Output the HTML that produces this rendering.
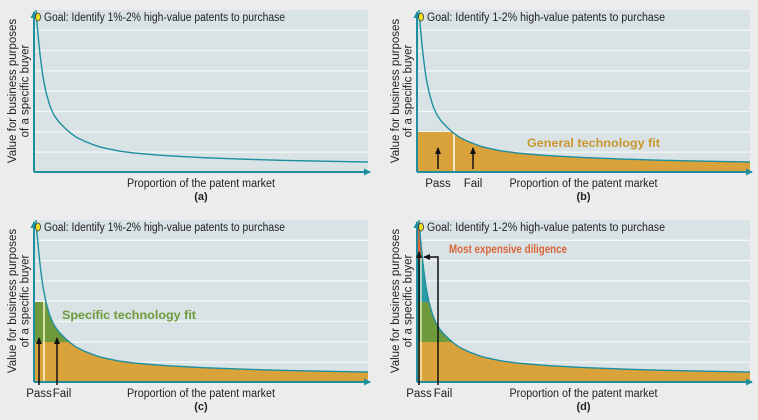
<!DOCTYPE html>
<html><head><meta charset="utf-8"><style>
html,body{margin:0;padding:0;background:#ececec;}
svg{display:block;font-family:"Liberation Sans",sans-serif;}
</style></head><body>
<svg id="s" width="758" height="420" viewBox="0 0 758 420" xmlns="http://www.w3.org/2000/svg">
<defs>
<marker id="ah" markerWidth="8" markerHeight="8" refX="6" refY="4" orient="auto" markerUnits="userSpaceOnUse"><path d="M0,0.5 L7,4 L0,7.5 z" fill="#1f8fa0"/></marker>
<marker id="bk" markerWidth="8" markerHeight="8" refX="6" refY="4" orient="auto" markerUnits="userSpaceOnUse"><path d="M0,1 L7,4 L0,7 z" fill="#111"/></marker>
</defs>
</svg>
<script>
var s=document.getElementById('s');var NS='http://www.w3.org/2000/svg';
var pts=[[2,160],[4,138],[6,118],[9,95],[12,80],[16,66],[20,57],[25,50],[33,42],[42,35],[50,31],[66,25],[85,21],[100,19],[130,16.5],[166,14.5],[210,12.8],[250,11.6],[300,10.6],[334,10]];
function h(x){if(x<=pts[0][0])return 162;for(var i=1;i<pts.length;i++){if(x<=pts[i][0]){var a=pts[i-1],b=pts[i];var t=(x-a[0])/(b[0]-a[0]);
var la=Math.log(a[1]),lb=Math.log(b[1]);return Math.exp(la+(lb-la)*t);}}return pts[pts.length-1][1];}
function curve(W){var d='M2,-160';for(var x=2;x<=W;x+=0.5){d+=' L'+x+','+(-h(x)).toFixed(2);}return d;}
function el(tag,attr,p,txt){var e=document.createElementNS(NS,tag);for(var k in attr)e.setAttribute(k,attr[k]);if(txt!=null)e.textContent=txt;(p||s).appendChild(e);return e;}
function panel(ox,oy,W,id,goal,goalLen,label,bands,extra){
 var g=el('g',{transform:'translate('+ox+','+oy+')'});
 el('rect',{x:0,y:-162,width:W,height:162,fill:'#d9e3e5'},g);
 for(var i=1;i<=7;i++){var y=-162+20.3*i;el('line',{x1:0,x2:W,y1:y,y2:y,stroke:'#f4f7f7','stroke-width':1.3},g);}
 var cp=el('clipPath',{id:'c'+id},g);el('path',{d:curve(W)+' L'+W+',0 L0,0 L0,-160 Z'},cp);
 var cg=el('g',{'clip-path':'url(#c'+id+')'},g);
 bands.forEach(function(b){el('rect',{x:0,y:-b[1],width:W,height:b[1]-b[0],fill:b[2]},cg);});
 if(extra)extra(g,cg);
 el('path',{d:curve(W),fill:'none',stroke:'#1f8fa0','stroke-width':1.4},g);
 el('line',{x1:0,y1:0,x2:W+2,y2:0,stroke:'#1f8fa0','stroke-width':2,'marker-end':'url(#ah)'},g);
 el('line',{x1:0,y1:0,x2:0,y2:-160,stroke:'#1f8fa0','stroke-width':2,'marker-end':'url(#ah)'},g);
 el('ellipse',{cx:4,cy:-155,rx:2.5,ry:4,fill:'#f2e020',stroke:'#333','stroke-width':0.8},g);
 el('text',{x:10,y:-151,'font-size':11.5,fill:'#222',textLength:goalLen,lengthAdjust:'spacingAndGlyphs'},g,goal);
 el('text',{x:W/2,y:15,'font-size':11.5,fill:'#222','text-anchor':'middle',textLength:148,lengthAdjust:'spacingAndGlyphs'},g,'Proportion of the patent market');
 el('text',{x:W/2,y:28,'font-size':11,fill:'#222','text-anchor':'middle','font-weight':'bold'},g,label);
 var t=el('text',{transform:'translate(-18,-81) rotate(-90)','font-size':11.5,fill:'#222','text-anchor':'middle'},g);
 el('tspan',{x:0,y:0},t,'Value for business purposes');el('tspan',{x:0,y:12.5},t,'of a specific buyer');
 return g;}
var OR='#d9a23a',GR='#6e9a3c',TL='#2a9aa8',RD='#d9663a';
panel(34,172,334,'a','Goal: Identify 1%-2% high-value patents to purchase',241,'(a)',[]);
var gb=panel(417,172,333,'b','Goal: Identify 1-2% high-value patents to purchase',238,'(b)',[[0,40,OR]],function(g,cg){el('line',{x1:37,x2:37,y1:0,y2:-40,stroke:'#fff','stroke-width':1.5},cg);});
el('line',{x1:21,y1:-3,x2:21,y2:-24,stroke:'#111','stroke-width':1.5,'marker-end':'url(#bk)'},gb);
el('line',{x1:56,y1:-3,x2:56,y2:-24,stroke:'#111','stroke-width':1.5,'marker-end':'url(#bk)'},gb);
el('text',{x:21,y:15,'font-size':11.5,fill:'#222','text-anchor':'middle'},gb,'Pass');
el('text',{x:56,y:15,'font-size':11.5,fill:'#222','text-anchor':'middle'},gb,'Fail');
el('text',{x:110,y:-25,'font-size':11.5,fill:'#c9962e','font-weight':'bold',textLength:133,lengthAdjust:'spacingAndGlyphs'},gb,'General technology fit');
var gc=panel(34,382,334,'c','Goal: Identify 1%-2% high-value patents to purchase',241,'(c)',[[0,40,OR],[40,80,GR]],function(g,cg){el('line',{x1:10,x2:10,y1:0,y2:-80,stroke:'#fff8d0','stroke-width':1.5},cg);});
el('line',{x1:5,y1:3,x2:5,y2:-44,stroke:'#111','stroke-width':1.5,'marker-end':'url(#bk)'},gc);
el('line',{x1:23,y1:3,x2:23,y2:-44,stroke:'#111','stroke-width':1.5,'marker-end':'url(#bk)'},gc);
el('text',{x:5,y:15,'font-size':11.5,fill:'#222','text-anchor':'middle'},gc,'Pass');
el('text',{x:28,y:15,'font-size':11.5,fill:'#222','text-anchor':'middle'},gc,'Fail');
el('text',{x:28,y:-63,'font-size':11.5,fill:'#6e9a3c','font-weight':'bold',textLength:134,lengthAdjust:'spacingAndGlyphs'},gc,'Specific technology fit');
var gd=panel(417,382,333,'d','Goal: Identify 1-2% high-value patents to purchase',238,'(d)',[[0,40,OR],[40,80,GR],[80,122,TL],[122,165,RD]],function(g,cg){el('line',{x1:4,x2:4,y1:0,y2:-125,stroke:'#fff8d0','stroke-width':1.2},cg);});
el('line',{x1:2,y1:3,x2:2,y2:-130,stroke:'#111','stroke-width':1.5,'marker-end':'url(#bk)'},gd);
el('polyline',{points:'21,3 21,-125 7,-125',fill:'none',stroke:'#111','stroke-width':1.5,'marker-end':'url(#bk)'},gd);
el('text',{x:2,y:15,'font-size':11.5,fill:'#222','text-anchor':'middle'},gd,'Pass');
el('text',{x:26,y:15,'font-size':11.5,fill:'#222','text-anchor':'middle'},gd,'Fail');
el('text',{x:32,y:-129,'font-size':11.5,fill:RD,'font-weight':'bold',textLength:118,lengthAdjust:'spacingAndGlyphs'},gd,'Most expensive diligence');
</script>
</body></html>
